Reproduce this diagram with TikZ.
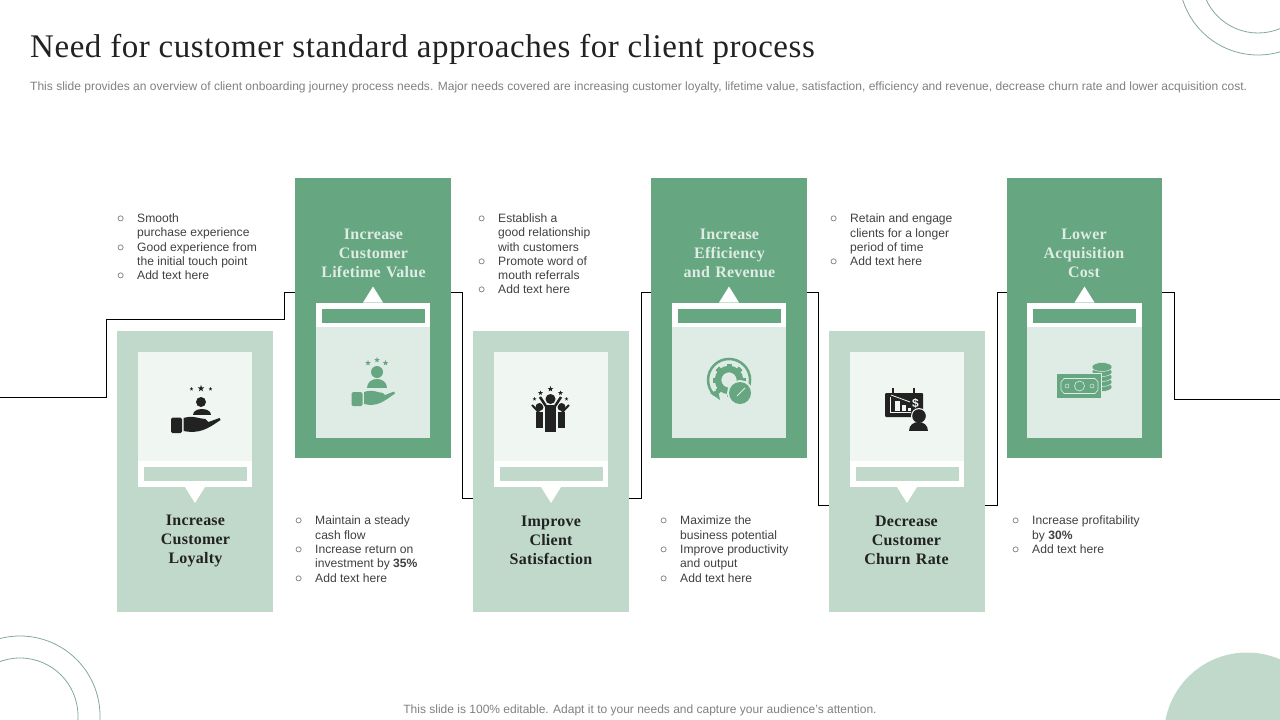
\documentclass[tikz,border=0pt]{standalone}
\usepackage{fontspec}
\setmainfont{Liberation Sans}
\newfontfamily\headfont[LetterSpace=1.5]{Liberation Serif}
\newfontfamily\titlefont[LetterSpace=1.7]{Liberation Serif}
\usepackage{xcolor}
\usetikzlibrary{positioning}
\definecolor{darkgreen}{HTML}{66A680}
\definecolor{midgreen}{HTML}{C0D9CA}
\definecolor{palegreen}{HTML}{DFECE5}
\definecolor{whitegreen}{HTML}{F0F6F2}
\definecolor{ringgreen}{HTML}{82AA9A}
\definecolor{inkblack}{HTML}{222222}
\definecolor{bodygrey}{HTML}{404040}
\definecolor{notegrey}{HTML}{808080}
\tikzset{
x=1pt,y=-1pt,
card/.style={rectangle,minimum width=156pt,minimum height=281pt,inner sep=0pt,outer sep=0pt},
darkcard/.style={card,fill=darkgreen},
lightcard/.style={card,fill=midgreen},
panel/.style={rectangle,minimum width=114.5pt,minimum height=135pt,inner sep=0pt,outer sep=0pt},
strip/.style={rectangle,minimum width=103pt,minimum height=14pt,inner sep=0pt,outer sep=0pt},
heading/.style={font=\headfont\bfseries\fontsize{16}{19}\selectfont,align=center,text width=130pt},
notes/.style={font=\fontsize{12.1}{14.3}\selectfont,text=bodygrey,align=left,anchor=north west,inner sep=0pt},
wire/.style={draw=black,line width=0.8pt},
ring/.style={draw=ringgreen,line width=0.8pt},
}
% one bullet line of the side notes
\newcommand{\bul}{\hspace*{-20pt}\makebox[20pt][l]{\fontsize{15}{9}\selectfont$\circ$}}
% a small star: x, y, size, colour
\newcommand{\starmark}[4]{\fill[#4,shift={(#1,#2)},scale=#3] (0,-1) -- (.24,-.31) -- (.95,-.31) -- (.38,.12) -- (.59,.81) -- (0,.38) -- (-.59,.81) -- (-.38,.12) -- (-.95,-.31) -- (-.24,-.31) -- cycle;}
\begin{document}
\begin{tikzpicture}
\useasboundingbox (0,0) rectangle (1280,720);
% corners
\begin{scope}
\clip (0,0) rectangle (1280,720);
\draw[ring] (1258,-24) circle (79);
\draw[ring] (1258,-24) circle (57);
\draw[ring] (20,716) circle (80);
\draw[ring] (20,716) circle (58);
\fill[midgreen] (1247,735.5) circle (83);
\end{scope}
% title
\node[anchor=base west,inner sep=0pt,font=\titlefont\fontsize{33}{36}\selectfont,text=inkblack] (title) at (30,57) {Need for customer standard approaches for client process};
\node[anchor=base west,inner sep=0pt,font=\fontsize{12.03}{14}\selectfont,text=notegrey] (intro) at (30,90) {This slide provides an overview of client onboarding journey process needs. Major needs covered are increasing customer loyalty, lifetime value, satisfaction, efficiency and revenue, decrease churn rate and lower acquisition cost.};
\node[anchor=base,inner sep=0pt,font=\fontsize{12}{14}\selectfont,text=notegrey] (foot) at (640,713) {This slide is 100\% editable. Adapt it to your needs and capture your audience's attention.};
% the cards
\node[lightcard] (loyalty) at (195,471.5) {};
\node[darkcard,minimum height=280pt] (lifetime) at (373,318) {};
\node[lightcard] (satisfaction) at (551,471.5) {};
\node[darkcard,minimum height=280pt] (efficiency) at (729,318) {};
\node[lightcard] (churn) at (907,471.5) {};
\node[darkcard,minimum height=280pt,minimum width=155pt] (acquisition) at (1084.5,318) {};
% the line behind them
\coordinate (start) at (0,397);
\coordinate (stop) at (1280,399);
\draw[wire] (start) -- (106,397) -- (106,319) -- (284,319) -- (284,292) -- ([yshift=26pt]lifetime.west);
\draw[wire] ([yshift=26pt]lifetime.east) -- (462,292) -- (462,498) -- ([yshift=-26.5pt]satisfaction.west);
\draw[wire] ([yshift=-26.5pt]satisfaction.east) -- (641,498) -- (641,292) -- ([yshift=26pt]efficiency.west);
\draw[wire] ([yshift=26pt]efficiency.east) -- (818,292) -- (818,505) -- ([yshift=-33.5pt]churn.west);
\draw[wire] ([yshift=-33.5pt]churn.east) -- (997,505) -- (997,292) -- ([yshift=26pt]acquisition.west);
\draw[wire] ([yshift=26pt]acquisition.east) -- (1174,292) -- (1174,399) -- (stop);
% panels, light row
\foreach \c in {loyalty,satisfaction,churn}
{
  \node[panel,fill=whitegreen,anchor=north] (\c-panel) at ([yshift=-21pt]\c.north) {};
  \fill[white] ([xshift=-57.25pt]\c-panel.south) rectangle ([xshift=57.25pt,yshift=26pt]\c-panel.south);
  \node[strip,fill=midgreen] (\c-strip) at ([yshift=13pt]\c-panel.south) {};
  \fill[white] ([xshift=-10pt]\c-panel.south) -- ([xshift=10pt]\c-panel.south) -- ([yshift=-16pt]\c-panel.south) -- cycle;
}
% panels, dark row
\foreach \c in {lifetime,efficiency,acquisition}
{
  \node[panel,fill=palegreen,anchor=south] (\c-panel) at ([yshift=20.5pt]\c.south) {};
  \fill[white] ([xshift=-57.25pt]\c-panel.north) rectangle ([xshift=57.25pt,yshift=-24pt]\c-panel.north);
  \node[strip,fill=darkgreen] (\c-strip) at ([yshift=-13pt]\c-panel.north) {};
  \fill[white] ([xshift=-10pt]\c-panel.north) -- ([xshift=10pt]\c-panel.north) -- ([yshift=16pt]\c-panel.north) -- cycle;
}
% headings
\node[heading,text=inkblack] (loyalty-text) at (195.5,540.5) {Increase\\Customer\\Loyalty};
\node[heading,text=palegreen] (lifetime-text) at (373.5,253.5) {Increase\\Customer\\Lifetime Value};
\node[heading,text=inkblack] (satisfaction-text) at (551,540.5) {Improve\\Client\\Satisfaction};
\node[heading,text=palegreen] (efficiency-text) at (729.5,253.5) {Increase\\Efficiency\\and Revenue};
\node[heading,text=inkblack] (churn-text) at (906.5,540.5) {Decrease\\Customer\\Churn Rate};
\node[heading,text=palegreen] (acquisition-text) at (1084,253.5) {Lower\\Acquisition\\Cost};
% side notes
\node[notes] (note-a) at (137,213.5) {\bul Smooth\\purchase experience\\\bul Good experience from\\the initial touch point\\\bul Add text here};
\node[notes] (note-b) at (315,516) {\bul Maintain a steady\\cash flow\\\bul Increase return on\\investment by \textbf{35\%}\\\bul Add text here};
\node[notes] (note-c) at (498,213.5) {\bul Establish a\\good relationship\\with customers\\\bul Promote word of\\mouth referrals\\\bul Add text here};
\node[notes] (note-d) at (680,516) {\bul Maximize the\\business potential\\\bul Improve productivity\\and output\\\bul Add text here};
\node[notes] (note-e) at (850,214) {\bul Retain and engage\\clients for a longer\\period of time\\\bul Add text here};
\node[notes] (note-f) at (1032,516) {\bul Increase profitability\\by \textbf{30\%}\\\bul Add text here};
% icons
% hand and person
\begin{scope}[shift={(195.5,410)}]
\fill[inkblack] (5.5,-8) circle (5);
\fill[inkblack] (-3,5) .. controls (-3,-3) and (15,-3) .. (15,5) -- cycle;
\fill[inkblack,rounded corners=1.5pt] (-24.5,7.5) rectangle (-13.5,23);
\fill[inkblack] (-12,8) .. controls (-2,5) and (4,9) .. (10,9) -- (13,12) -- (24,8) -- (25,10) .. controls (12,19) and (4,24) .. (-12,21) -- cycle;
\starmark{-4}{-21}{2}{inkblack}
\starmark{5.5}{-21.5}{3.5}{inkblack}
\starmark{15}{-21}{2}{inkblack}
\end{scope}
\begin{scope}[shift={(373,384)}]
\fill[darkgreen] (4,-12) circle (6);
\fill[darkgreen] (-6,4) .. controls (-6,-8) and (14,-8) .. (14,4) -- cycle;
\fill[darkgreen,rounded corners=1.5pt] (-21.5,8) rectangle (-10.5,22);
\fill[darkgreen] (-9,8) .. controls (0,5) and (6,9) .. (10,9) -- (12,11) -- (21,7.5) -- (22,9.5) .. controls (10,18) and (4,23) .. (-9,20) -- cycle;
\starmark{-5}{-21}{3}{darkgreen}
\starmark{4}{-24}{3}{darkgreen}
\starmark{12.5}{-21}{3}{darkgreen}
\end{scope}
% three people
\begin{scope}[shift={(550.5,412)}]
\foreach \px/\ax in {-11/-18.5,11/18.5}
{
  \fill[inkblack] (\px,-5) circle (4);
  \fill[inkblack] (\px-3.5,0) rectangle (\px+3.5,16);
  \draw[inkblack,line width=2pt] (\px,1) -- (\ax,-7);
}
\draw[whitegreen,line width=4pt] (-5,-6) -- (-10.5,-15);
\draw[whitegreen,line width=4pt] (5,-6) -- (10.5,-15);
\fill[whitegreen] (-6.5,-8) rectangle (6.5,20);
\fill[inkblack] (0,-13) circle (5);
\fill[inkblack] (-5.5,-7) rectangle (5.5,20);
\draw[inkblack,line width=2.5pt] (-4,-5) -- (-10.5,-15);
\draw[inkblack,line width=2.5pt] (4,-5) -- (10.5,-15);
\starmark{0}{-23}{3}{inkblack}
\starmark{-10}{-19}{2.5}{inkblack}
\starmark{10}{-19}{2.5}{inkblack}
\starmark{-16}{-13}{2}{inkblack}
\starmark{16}{-13}{2}{inkblack}
\end{scope}
% gear and gauge
\begin{scope}[shift={(729,380)}]
\draw[darkgreen,line width=2.5pt] (-14.8,14.8) arc (135:385:21);
\fill[darkgreen] (-19,13) -- (-9,20) -- (-11,10) -- cycle;
\draw[darkgreen,line width=6.5pt] (0,0) circle (11);
\foreach \a in {0,45,...,315}
  \fill[darkgreen,rotate=\a] (-2.5,-16.5) rectangle (2.5,-12);
\fill[palegreen] (11,13) circle (13);
\fill[darkgreen] (11,13) circle (11);
\draw[palegreen,line width=1pt] (8,16) -- (16,8);
\end{scope}
% board and person
\begin{scope}[shift={(903,408)}]
\fill[inkblack,rounded corners=1pt] (-18,-15) rectangle (20,9);
\fill[inkblack] (-11,-15) rectangle (-9,-20);
\fill[inkblack] (10,-15) rectangle (12,-20);
\fill[whitegreen] (-13,-11) rectangle (-12,5);
\fill[whitegreen] (-13,4) rectangle (8,5);
\fill[whitegreen] (-8,-7) rectangle (-3,3);
\fill[whitegreen] (-1,-3) rectangle (3,3);
\fill[whitegreen] (4.5,0) rectangle (8,3);
\draw[whitegreen,line width=0.8pt] (-12,-13) -- (7,-6);
\node[inner sep=0pt,text=whitegreen,font=\bfseries\fontsize{12}{12}\selectfont] (dollar) at (12.5,-5) {\$};
\fill[whitegreen] (16,8) circle (8);
\fill[inkblack] (16,8) circle (6.8);
\fill[inkblack] (6,23) .. controls (6,11) and (25,11) .. (25,23) -- cycle;
\end{scope}
% notes and coins
\begin{scope}[shift={(1084,385)}]
\foreach \cy in {2,-3,-8,-13,-18}
{
  \fill[darkgreen,draw=palegreen,line width=0.5pt] (18,\cy) ellipse (10 and 4.5);
}
\fill[palegreen] (-28,-12) rectangle (18,14);
\fill[darkgreen] (-27,-11) rectangle (17,13);
\draw[palegreen,line width=0.6pt] (-20,-6.5) -- (11,-6.5) -- (14,-3) -- (14,5) -- (11,8.5) -- (-20,8.5) -- (-23,5) -- (-23,-3) -- cycle;
\draw[palegreen,line width=0.6pt] (-4.5,1) circle (5);
\draw[palegreen,line width=0.5pt] (-17,1) circle (2);
\draw[palegreen,line width=0.5pt] (8,1) circle (2);
\end{scope}
\end{tikzpicture}
\end{document}
